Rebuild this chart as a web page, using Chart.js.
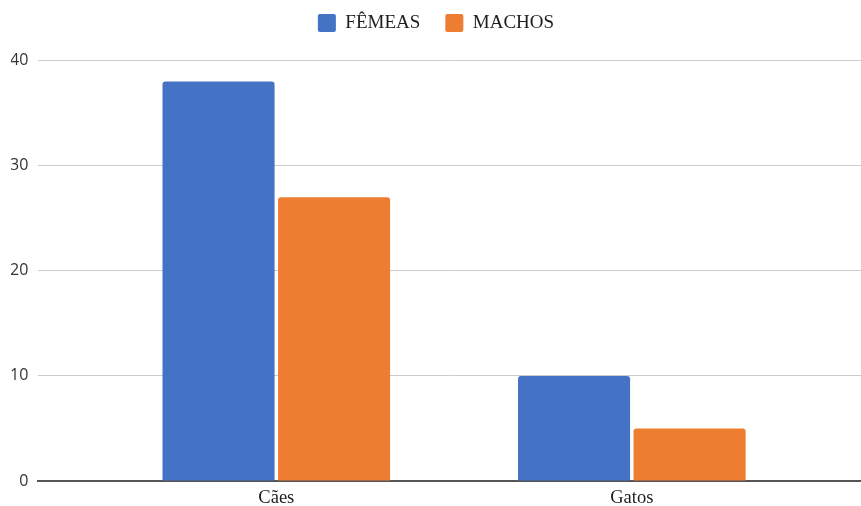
<!DOCTYPE html>
<html lang="pt">
<head>
<meta charset="utf-8">
<title>Cães e Gatos</title>
<script src="https://cdn.jsdelivr.net/npm/chart.js@4/dist/chart.umd.min.js"></script>
<style>
  html, body { margin: 0; padding: 0; background: #ffffff; }
  #wrap { width: 861px; height: 506px; position: relative; }
</style>
</head>
<body>
<div id="wrap"><canvas id="chart" width="861" height="506"></canvas></div>
<script>
// Animais por sexo
const categories = ['Cães', 'Gatos'];
const seriesNames = ['FÊMEAS', 'MACHOS'];
const femeas = [38, 10];
const machos = [27, 5];
const yTicks = [0, 10, 20, 30, 40];

const BLUE = '#4472C4';
const ORANGE = '#ED7D31';

const toPoints = (values) => values.map((v, i) => ({ x: i, y: v }));

new Chart(document.getElementById('chart'), {
  type: 'bar',
  data: {
    datasets: [
      { label: seriesNames[0], data: toPoints(femeas), backgroundColor: BLUE,
        borderWidth: 0, borderRadius: { topLeft: 3, topRight: 3 }, borderSkipped: 'start' },
      { label: seriesNames[1], data: toPoints(machos), backgroundColor: ORANGE,
        borderWidth: 0, borderRadius: { topLeft: 3, topRight: 3 }, borderSkipped: 'start' }
    ]
  },
  options: {
    responsive: false,
    animation: false,
    devicePixelRatio: 1,
    categoryPercentage: 0.65,
    barPercentage: 0.97,
    layout: { padding: { top: -11.5, left: 11, right: 0, bottom: 0 } },
    plugins: {
      tooltip: { enabled: false },
      legend: {
        position: 'top',
        align: 'center',
        labels: {
          boxWidth: 18,
          boxHeight: 18,
          padding: 25,
          useBorderRadius: true,
          borderRadius: 2,
          color: '#1e1e1e',
          font: { family: '"Liberation Serif", "Times New Roman", serif', size: 19 }
        }
      },
      // empty spacer between the legend row and the plot
      title: {
        display: true,
        text: '',
        weight: 500,
        font: { size: 1, lineHeight: 1 },
        padding: { top: 0, bottom: 17 }
      }
    },
    scales: {
      x: {
        type: 'linear',
        offset: false,
        min: -0.6695,
        max: 1.6447,
        afterBuildTicks: (scale) => {
          scale.ticks = categories.map((_, i) => ({ value: i }));
        },
        afterFit: (scale) => { scale.height = 25; },
        grid: { display: false, drawTicks: false },
        border: { display: true, color: '#555555', width: 2 },
        ticks: {
          padding: 6.5,
          color: '#1e1e1e',
          autoSkip: false,
          maxRotation: 0,
          font: { family: '"Liberation Serif", "Times New Roman", serif', size: 18.5 },
          callback: (value) => categories[value] ?? ''
        }
      },
      y: {
        min: yTicks[0],
        max: yTicks[yTicks.length - 1],
        afterBuildTicks: (scale) => {
          scale.ticks = yTicks.map((v) => ({ value: v }));
        },
        afterFit: (scale) => { scale.width = 27.3; },
        border: { display: false },
        grid: {
          drawTicks: false,
          lineWidth: 1,
          color: (ctx) => (ctx.tick && ctx.tick.value === 0 ? 'rgba(0,0,0,0)' : '#cccccc')
        },
        ticks: {
          padding: 10,
          color: '#333333',
          font: { family: '"Open Sans", "Noto Sans", sans-serif', size: 16 }
        }
      }
    }
  }
});
</script>
</body>
</html>
